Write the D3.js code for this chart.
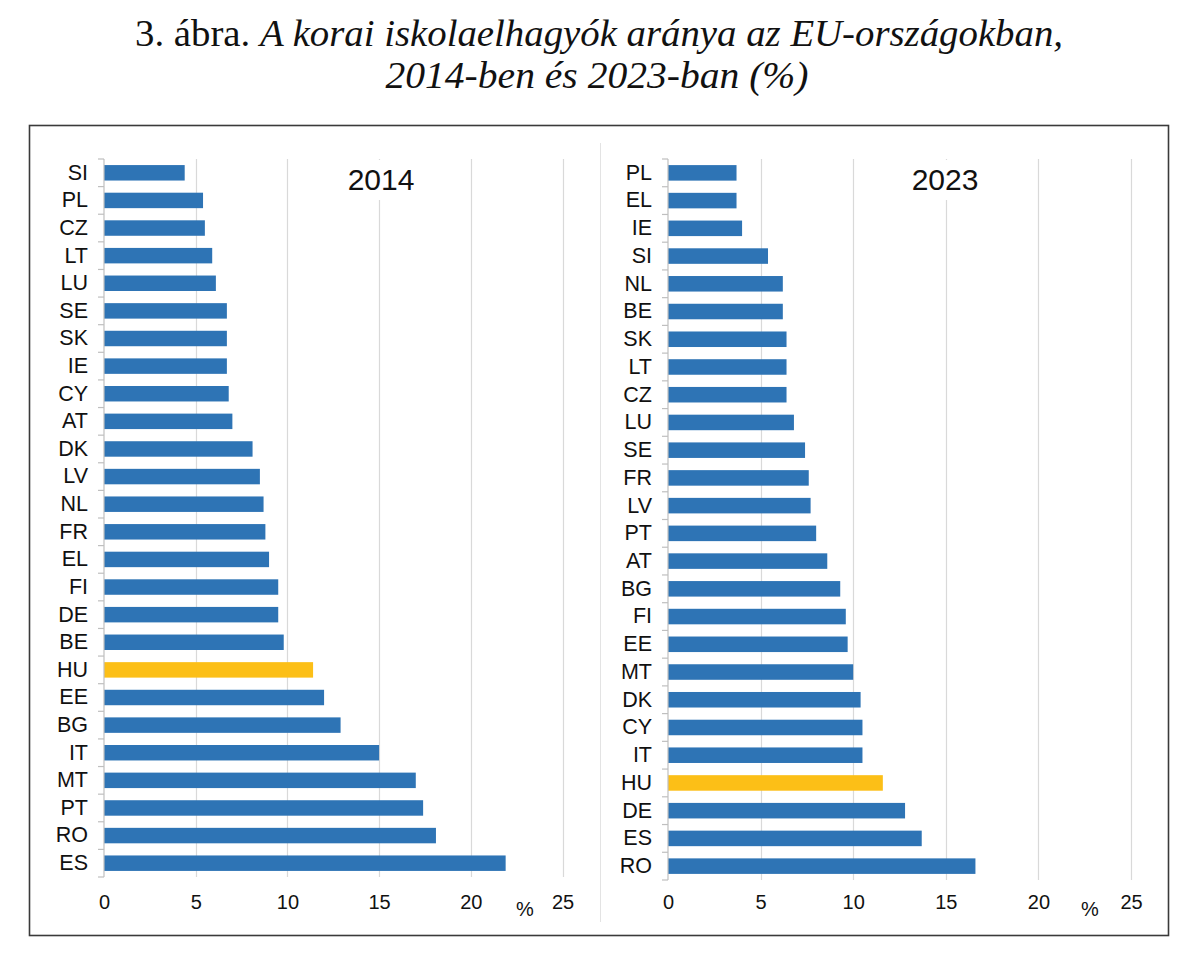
<!DOCTYPE html>
<html>
<head>
<meta charset="utf-8">
<script src="https://cdn.jsdelivr.net/npm/d3@7"></script>
<style>
  html, body { margin: 0; padding: 0; background: #fff; }
  svg { display: block; }
</style>
</head>
<body>
<svg id="chart" width="1200" height="959"></svg>
<script>
// ---- Data ----
const countries2014 = ["SI","PL","CZ","LT","LU","SE","SK","IE","CY","AT","DK","LV","NL","FR","EL","FI","DE","BE","HU","EE","BG","IT","MT","PT","RO","ES"];
const values2014    = [4.4, 5.4, 5.5, 5.9, 6.1, 6.7, 6.7, 6.7, 6.8, 7.0, 8.1, 8.5, 8.7, 8.8, 9.0, 9.5, 9.5, 9.8, 11.4, 12.0, 12.9, 15.0, 17.0, 17.4, 18.1, 21.9];
const countries2023 = ["PL","EL","IE","SI","NL","BE","SK","LT","CZ","LU","SE","FR","LV","PT","AT","BG","FI","EE","MT","DK","CY","IT","HU","DE","ES","RO"];
const values2023    = [3.7, 3.7, 4.0, 5.4, 6.2, 6.2, 6.4, 6.4, 6.4, 6.8, 7.4, 7.6, 7.7, 8.0, 8.6, 9.3, 9.6, 9.7, 10.0, 10.4, 10.5, 10.5, 11.6, 12.8, 13.7, 16.6];
const xTicks = [0, 5, 10, 15, 20, 25];
const highlightCountry = "HU";
const panelTitles = ["2014", "2023"];
const unitLabel = "%";
const titlePrefix = "3. ábra. ";
const titleItalic1 = "A korai iskolaelhagyók aránya az EU-országokban,";
const titleItalic2 = "2014-ben és 2023-ban (%)";

// ---- Styles ----
const BLUE = "#2e74b5";
const YELLOW = "#fcbf17";
const GRID = "#d9d9d9";
const AXIS = "#bfbfbf";

const svg = d3.select("#chart");

// Main title
const t1 = svg.append("text")
  .attr("x", 599).attr("y", 46)
  .attr("text-anchor", "middle")
  .attr("font-family", "'Liberation Serif', 'Times New Roman', serif")
  .attr("font-size", 37)
  .attr("fill", "#111")
  .attr("textLength", 928)
  .attr("lengthAdjust", "spacingAndGlyphs");
t1.append("tspan").text(titlePrefix);
t1.append("tspan").attr("font-style", "italic").text(titleItalic1);

svg.append("text")
  .attr("x", 597).attr("y", 88)
  .attr("text-anchor", "middle")
  .attr("font-family", "'Liberation Serif', 'Times New Roman', serif")
  .attr("font-size", 37)
  .attr("font-style", "italic")
  .attr("fill", "#111")
  .attr("textLength", 423)
  .attr("lengthAdjust", "spacingAndGlyphs")
  .text(titleItalic2);

// Outer frame
svg.append("rect")
  .attr("x", 29.5).attr("y", 125.5)
  .attr("width", 1139).attr("height", 810)
  .attr("fill", "none")
  .attr("stroke", "#3a3a3a")
  .attr("stroke-width", 1.6);

// Divider between the two charts
svg.append("line")
  .attr("x1", 600.5).attr("x2", 600.5)
  .attr("y1", 143).attr("y2", 922)
  .attr("stroke", "#e3e3e3").attr("stroke-width", 1);

const panels = [
  { cats: countries2014, vals: values2014, title: panelTitles[0],
    left: 104, right: 562.5, top: 159, bottom: 877, titleX: 381, pctX: 525 },
  { cats: countries2023, vals: values2023, title: panelTitles[1],
    left: 668, right: 1131, top: 159, bottom: 880, titleX: 945, pctX: 1090 }
];

panels.forEach(p => {
  const g = svg.append("g");
  const x = d3.scaleLinear().domain([0, 25]).range([p.left, p.right]);
  const pad = 0.44;
  const y = d3.scaleBand().domain(p.cats).range([p.top, p.bottom])
    .paddingInner(pad).paddingOuter(pad / 2);

  // gridlines
  g.append("g").selectAll("line")
    .data(xTicks.filter(d => d > 0))
    .join("line")
    .attr("x1", d => Math.round(x(d)) + 0.5)
    .attr("x2", d => Math.round(x(d)) + 0.5)
    .attr("y1", p.top).attr("y2", p.bottom)
    .attr("stroke", GRID).attr("stroke-width", 1.2);

  // panel title with white background (covers gridline)
  const tg = g.append("g");
  tg.append("rect")
    .attr("x", p.titleX - 42).attr("y", p.top + 1)
    .attr("width", 84).attr("height", 200 - p.top - 1)
    .attr("fill", "#fff");
  tg.append("text")
    .attr("x", p.titleX).attr("y", 190)
    .attr("text-anchor", "middle")
    .attr("font-family", "'Liberation Sans', Arial, sans-serif")
    .attr("font-size", 30)
    .attr("fill", "#111")
    .text(p.title);

  // bars
  g.append("g").selectAll("rect")
    .data(p.cats.map((c, i) => ({ c, v: p.vals[i] })))
    .join("rect")
    .attr("x", x(0))
    .attr("y", d => y(d.c))
    .attr("width", d => x(d.v) - x(0))
    .attr("height", y.bandwidth())
    .attr("fill", d => d.c === highlightCountry ? YELLOW : BLUE);

  // y axis (category labels)
  const yAxis = g.append("g")
    .attr("transform", `translate(${x(0)},0)`)
    .call(d3.axisLeft(y).tickSize(0).tickPadding(16));
  yAxis.select(".domain").remove();
  yAxis.selectAll("text")
    .attr("font-family", "'Liberation Sans', Arial, sans-serif")
    .attr("font-size", 21.5)
    .attr("fill", "#111");

  // axis line and band-boundary ticks
  const step = y.step();
  const start = y(p.cats[0]) - (step - y.bandwidth()) / 2;
  const bounds = d3.range(p.cats.length + 1).map(i => start + i * step);
  g.append("line")
    .attr("x1", x(0)).attr("x2", x(0))
    .attr("y1", p.top).attr("y2", p.bottom)
    .attr("stroke", AXIS).attr("stroke-width", 1.2);
  g.append("g").selectAll("line")
    .data(bounds).join("line")
    .attr("x1", x(0) - 6).attr("x2", x(0))
    .attr("y1", d => d).attr("y2", d => d)
    .attr("stroke", AXIS).attr("stroke-width", 1.2);

  // x axis labels
  const xAxis = g.append("g")
    .attr("transform", `translate(0,${p.bottom})`)
    .call(d3.axisBottom(x).tickValues(xTicks).tickSize(0).tickFormat(d3.format("d")));
  xAxis.select(".domain").remove();
  xAxis.selectAll("text")
    .attr("y", 909 - p.bottom).attr("dy", 0)
    .attr("font-family", "'Liberation Sans', Arial, sans-serif")
    .attr("font-size", 20)
    .attr("fill", "#111");

  // unit label
  g.append("text")
    .attr("x", p.pctX).attr("y", 916)
    .attr("text-anchor", "middle")
    .attr("font-family", "'Liberation Sans', Arial, sans-serif")
    .attr("font-size", 20)
    .attr("fill", "#111")
    .text(unitLabel);
});
</script>
</body>
</html>
